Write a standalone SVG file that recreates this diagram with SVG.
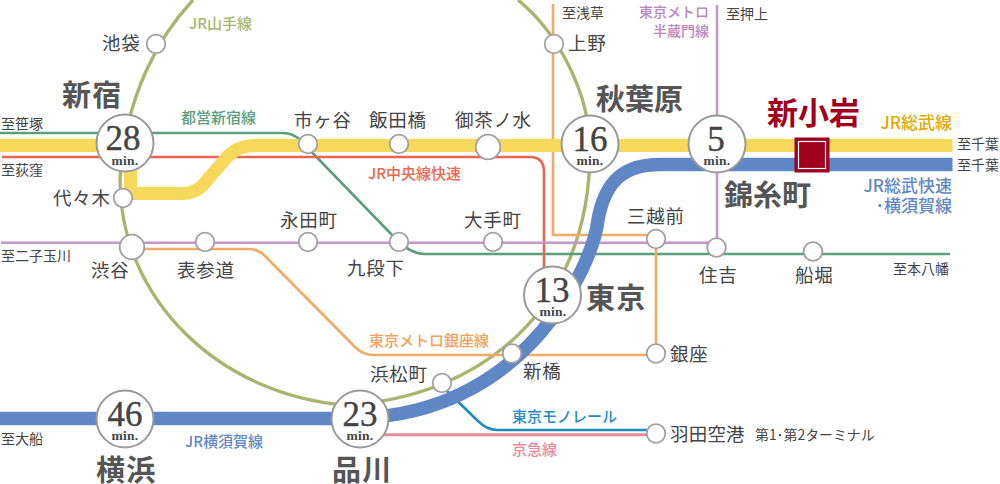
<svg xmlns="http://www.w3.org/2000/svg" width="1000" height="484" viewBox="0 0 1000 484">
<style>
text{font-family:"Noto Sans CJK JP","Noto Sans",sans-serif;fill:#444}
.l{fill:none;stroke-width:2.6}
.st{font-size:18.5px;letter-spacing:.7px}
.to{font-size:14px}
.big{font-size:29px;font-weight:700;fill:#555;letter-spacing:1.2px}
.ln{font-size:15px;font-weight:500}
.lg{font-size:17px;font-weight:500}
.s{fill:#fff;stroke:#a0a0a0;stroke-width:1.8}
.b{fill:#fff;stroke:#999;stroke-width:2}
.n{font-family:"Liberation Serif",serif;font-size:35px;text-anchor:middle;fill:#444;stroke:#444;stroke-width:.4}
.m{font-family:"Liberation Serif",serif;font-size:13.5px;font-weight:700;letter-spacing:.3px;text-anchor:middle;fill:#444}
</style>
<rect width="1000" height="484" fill="#fff"/>
<g id="connectors">
<path id="yamanote" class="l" stroke="#a9b56f" style="stroke-width:3.4" d="M193,0C160,35 125,95 120,180C120,300 220,395 345,405C480,398 590,310 590,150C590,90 555,30 518,0"/>
<path id="shinjuku-line" class="l" stroke="#5a9e7c" d="M0,133H283Q293,133 300,140L395,238Q410,254 425,254H950"/>
<path id="chuo-rapid" class="l" stroke="#e8664f" d="M2,157H530Q544,157 544,172V275"/>
<path id="ginza-line" class="l" stroke="#f2aa66" d="M132,249H248Q258,249 265,256L355,347Q363,355 373,355H650"/>
<path id="ginza-branch" class="l" stroke="#f2aa66" d="M553,4V235H656V353"/>
<path id="hanzomon" class="l" stroke="#c596c8" d="M1,242.7H717V5"/>
<path id="monorail" class="l" stroke="#1e8cc0" d="M447,391L478,421Q487,430 497,430H656"/>
<path id="keikyu" class="l" stroke="#e88a9a" style="stroke-width:3" d="M380,434.7H656"/>
<path id="sobu" fill="none" stroke="#f6d95b" stroke-width="13" d="M0,145.5H110M130.5,165V193.5H183Q195,193.5 203,185L227,157Q238,145.5 255,145.5H952.5"/>
<path id="sobu-rapid" fill="none" stroke="#5f87c6" stroke-width="13.5" d="M952.5,164.5H660C625,164.5 605,180 598,220C592,270 525,405 375,417L360,418.5H0"/>
</g>
<g id="ikebukuro"><circle class="s" cx="156" cy="44" r="9.3"/><text class="st" x="102" y="50">池袋</text></g>
<g id="shinjuku"><circle class="b" cx="125" cy="143" r="28.5"/><text class="n" x="123" y="150">28</text><text class="m" x="125" y="165">min.</text><text class="big" x="62" y="106">新宿</text></g>
<g id="yoyogi"><circle class="s" cx="123" cy="198" r="9.3"/><text class="st" x="53" y="205">代々木</text></g>
<g id="ichigaya"><circle class="s" cx="308" cy="144" r="9.3"/><text class="st" x="294" y="127">市ヶ谷</text></g>
<g id="iidabashi"><circle class="s" cx="399" cy="144" r="9.3"/><text class="st" x="369" y="127">飯田橋</text></g>
<g id="ochanomizu"><circle class="s" cx="488" cy="147" r="12.3"/><text class="st" x="455" y="127">御茶ノ水</text></g>
<g id="ueno"><circle class="s" cx="554" cy="44" r="9.3"/><text class="st" x="568" y="50">上野</text></g>
<g id="akihabara"><circle class="b" cx="590" cy="144" r="28.5"/><text class="n" x="590" y="151">16</text><text class="m" x="590" y="165">min.</text><text class="big" x="596" y="110" style="letter-spacing:0">秋葉原</text></g>
<g id="kinshicho"><circle class="b" cx="717" cy="144" r="28.5"/><text class="n" x="716" y="151">5</text><text class="m" x="717" y="165">min.</text><text class="big" x="724" y="206" style="letter-spacing:0">錦糸町</text></g>
<g id="shinkoiwa"><rect x="794.5" y="137.5" width="35" height="35" fill="#a0001e"/><rect x="798.5" y="141.5" width="27" height="27" fill="#a0001e" stroke="#fff" stroke-width="1.2"/><text x="767" y="124" style="font-size:31px;font-weight:700;fill:#a0001e">新小岩</text></g>
<g id="shibuya"><circle class="s" cx="132" cy="247" r="12.3"/><text class="st" x="91" y="277">渋谷</text></g>
<g id="omotesando"><circle class="s" cx="205" cy="242" r="9.3"/><text class="st" x="177" y="277">表参道</text></g>
<g id="nagatacho"><circle class="s" cx="308" cy="242" r="9.3"/><text class="st" x="280" y="227">永田町</text></g>
<g id="kudanshita"><circle class="s" cx="399" cy="242" r="9.3"/><text class="st" x="347" y="275">九段下</text></g>
<g id="otemachi"><circle class="s" cx="493" cy="242" r="9.3"/><text class="st" x="464" y="227">大手町</text></g>
<g id="mitsukoshimae"><circle class="s" cx="656" cy="239" r="9.3"/><text class="st" x="627" y="223">三越前</text></g>
<g id="sumiyoshi"><circle class="s" cx="716.5" cy="247.5" r="9.3"/><text class="st" x="699" y="282">住吉</text></g>
<g id="funabori"><circle class="s" cx="813" cy="251.5" r="9.3"/><text class="st" x="795" y="282">船堀</text></g>
<g id="tokyo"><circle class="b" cx="552.5" cy="295" r="28.5"/><text class="n" x="552" y="302">13</text><text class="m" x="553" y="316">min.</text><text class="big" x="586" y="309">東京</text></g>
<g id="shinbashi"><circle class="s" cx="512" cy="353.5" r="9.3"/><text class="st" x="523" y="378">新橋</text></g>
<g id="ginza"><circle class="s" cx="656" cy="353.5" r="9.3"/><text class="st" x="670" y="361">銀座</text></g>
<g id="hamamatsucho"><circle class="s" cx="442" cy="383" r="9.3"/><text class="st" x="370" y="381">浜松町</text></g>
<g id="haneda"><circle class="s" cx="656" cy="433.5" r="9.3"/><text x="670" y="441" style="font-size:18.5px;letter-spacing:.2px">羽田空港</text><text x="755" y="440" style="font-size:13.9px">第1･第2ターミナル</text></g>
<g id="shinagawa"><circle class="b" cx="360" cy="419" r="28.5"/><text class="n" x="360" y="426">23</text><text class="m" x="360" y="440">min.</text><text class="big" x="332" y="481">品川</text></g>
<g id="yokohama"><circle class="b" cx="125" cy="419" r="28.5"/><text class="n" x="125" y="426">46</text><text class="m" x="125" y="440">min.</text><text class="big" x="96" y="481">横浜</text></g>
<g id="line-labels">
<text class="ln" x="189" y="29" style="fill:#a9b56f">JR山手線</text>
<text class="ln" x="181" y="123" style="fill:#5a9e7c">都営新宿線</text>
<text class="ln" x="368" y="179" style="fill:#e8664f">JR中央線快速</text>
<text class="ln" x="709" y="17" text-anchor="end" style="font-size:14px;fill:#bb85c0">東京メトロ</text>
<text class="ln" x="709" y="36" text-anchor="end" style="font-size:14px;fill:#bb85c0">半蔵門線</text>
<text class="lg" x="952" y="129" text-anchor="end" style="fill:#e0a800">JR総武線</text>
<text class="lg" x="952" y="192" text-anchor="end" style="fill:#5f87c6">JR総武快速</text>
<text class="lg" x="952" y="212" text-anchor="end" style="fill:#5f87c6">･横須賀線</text>
<text class="ln" x="369" y="346" style="fill:#f2a05a">東京メトロ銀座線</text>
<text class="ln" x="512" y="422" style="fill:#1e8cc0">東京モノレール</text>
<text class="ln" x="512" y="455" style="fill:#e88a9a">京急線</text>
<text class="ln" x="185" y="447" style="fill:#5f87c6">JR横須賀線</text>
</g>
<g id="direction-labels">
<text class="to" x="1" y="129">至笹塚</text>
<text class="to" x="1" y="175">至荻窪</text>
<text class="to" x="1" y="261">至二子玉川</text>
<text class="to" x="1" y="444">至大船</text>
<text class="to" x="562" y="18">至浅草</text>
<text class="to" x="726" y="19">至押上</text>
<text class="to" x="957" y="149">至千葉</text>
<text class="to" x="957" y="170">至千葉</text>
<text class="to" x="893" y="274">至本八幡</text>
</g>
</svg>
